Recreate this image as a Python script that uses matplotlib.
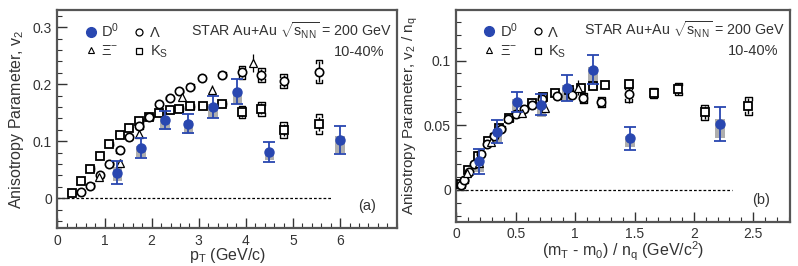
import numpy as np
import matplotlib
matplotlib.use('Agg')
import matplotlib.pyplot as plt
from matplotlib.lines import Line2D
from matplotlib.patches import Rectangle
from matplotlib.ticker import MultipleLocator

plt.rcParams['font.family'] = ['Liberation Sans', 'DejaVu Sans']
plt.rcParams['mathtext.fontset'] = 'custom'
plt.rcParams['mathtext.rm'] = 'Liberation Sans'
plt.rcParams['mathtext.it'] = 'Liberation Sans'

BLUE = '#2947b0'
INK = '#333333'

# ---- panel (a): v2 vs pT ----
d0_pt = [1.27, 1.77, 2.28, 2.78, 3.3, 3.82, 4.5, 6.0]
d0_v2 = [0.045, 0.088, 0.137, 0.131, 0.160, 0.187, 0.081, 0.102]
d0_stat = [0.02, 0.018, 0.016, 0.016, 0.02, 0.022, 0.018, 0.025]
d0_sys_lo = [0.015, 0.015, 0.017, 0.018, 0.02, 0.022, 0.013, 0.022]
d0_sys_hi = [0.01, 0.004, 0.003, 0.004, 0.005, 0.003, 0.004, 0.008]

ks_pt = [0.3, 0.5, 0.7, 0.9, 1.1, 1.32, 1.52, 1.74, 1.95, 2.16, 2.38, 2.59,
         2.82, 3.08, 3.5, 3.92, 4.33, 4.8, 5.55]
ks_v2 = [0.009, 0.030, 0.052, 0.075, 0.095, 0.111, 0.124, 0.135, 0.143, 0.150,
         0.154, 0.157, 0.161, 0.162, 0.166, 0.151, 0.157, 0.120, 0.130]
ks_stat = [0.001]*15 + [0.008, 0.010, 0.010, 0.012]
ks_sys = [0.004]*15 + [0.011, 0.012, 0.014, 0.017]

la_pt = [0.5, 0.7, 0.9, 1.1, 1.32, 1.52, 1.74, 1.95, 2.16, 2.38, 2.59, 2.82,
         3.07, 3.5, 3.92, 4.33, 4.8, 5.55]
la_v2 = [0.011, 0.022, 0.041, 0.061, 0.084, 0.107, 0.126, 0.142, 0.165, 0.176,
         0.188, 0.196, 0.211, 0.217, 0.221, 0.216, 0.206, 0.222]
la_stat = [0.001]*14 + [0.008, 0.010, 0.010, 0.018]
la_sys = [0.004]*14 + [0.011, 0.012, 0.012, 0.020]

xi_pt = [0.88, 1.33, 1.73, 2.64, 3.28, 4.15]
xi_v2 = [0.038, 0.062, 0.112, 0.178, 0.190, 0.237]
xi_stat = [0.004, 0.005, 0.007, 0.008, 0.009, 0.016]

# ---- panel (b): v2/nq vs (mT-m0)/nq ----
d0_ke = [0.19, 0.345, 0.51, 0.715, 0.93, 1.15, 1.46, 2.22]
d0_vq = [0.022, 0.045, 0.068, 0.066, 0.079, 0.093, 0.040, 0.051]
d0q_stat = [0.010, 0.009, 0.008, 0.008, 0.010, 0.011, 0.009, 0.013]
d0q_sys_lo = [0.008, 0.008, 0.009, 0.010, 0.010, 0.011, 0.007, 0.011]
d0q_sys_hi = [0.005, 0.002, 0.002, 0.002, 0.002, 0.002, 0.002, 0.004]

ks_ke = [0.04, 0.10, 0.18, 0.265, 0.355, 0.445, 0.54, 0.635, 0.73, 0.83, 0.95,
         1.05, 1.15, 1.25, 1.45, 1.66, 1.87, 2.09, 2.46]
ks_vq = [0.0045, 0.015, 0.026, 0.0375, 0.0475, 0.0555, 0.062, 0.0675, 0.0715,
         0.075, 0.077, 0.0785, 0.080, 0.081, 0.082, 0.075, 0.078, 0.060, 0.065]
ksq_stat = [0.0005]*14 + [0.003, 0.004, 0.005, 0.005, 0.006]
ksq_sys = [0.002]*14 + [0.003, 0.004, 0.005, 0.006, 0.007]

la_ke = [0.035, 0.067, 0.106, 0.15, 0.204, 0.257, 0.314, 0.377, 0.438, 0.504,
         0.568, 0.633, 0.717, 0.85, 0.97, 1.07, 1.22, 1.45]
la_vq = [0.0037, 0.0073, 0.0137, 0.0203, 0.028, 0.0357, 0.042, 0.0473, 0.055,
         0.0587, 0.0627, 0.0653, 0.0703, 0.0723, 0.0737, 0.071, 0.068, 0.074]
laq_stat = [0.0005]*15 + [0.004, 0.004, 0.007]
laq_sys = [0.002]*15 + [0.004, 0.004, 0.006]

xi_ke = [0.092, 0.187, 0.29, 0.55, 0.745, 1.02]
xi_vq = [0.0127, 0.0207, 0.0373, 0.0593, 0.0633, 0.079]
xiq_stat = [0.0013, 0.0017, 0.0023, 0.0027, 0.003, 0.006]


def brackets(ax, x, y, sys, w, h):
    for xi, yi, s in zip(x, y, sys):
        for sgn in (1, -1):
            yy = yi + sgn*s
            ax.plot([xi-w, xi-w, xi+w, xi+w], [yy - sgn*h, yy, yy, yy - sgn*h],
                    color='k', lw=1.0, zorder=3)


def draw_panel(ax, d0x, d0y, d0s, d0lo, d0hi, ksx, ksy, kss, ksb,
               lax, lay, las, lab, xix, xiy, xis, bw, bh, boxw, capw):
    # D0 systematic boxes
    for xi, yi, lo, hi in zip(d0x, d0y, d0lo, d0hi):
        ax.add_patch(Rectangle((xi - boxw/2, yi - lo), boxw, lo + hi,
                               facecolor='#9a9a9a', edgecolor='none', alpha=0.8, zorder=2))
    brackets(ax, ksx, ksy, ksb, bw, bh)
    brackets(ax, lax, lay, lab, bw, bh)
    ax.errorbar(ksx, ksy, yerr=kss, fmt='s', ms=5.5, mfc='white', mec='k', mew=1.3,
                ecolor='k', elinewidth=1.0, capsize=0, zorder=4)
    ax.errorbar(lax, lay, yerr=las, fmt='o', ms=6, mfc='white', mec='k', mew=1.2,
                ecolor='k', elinewidth=1.0, capsize=0, zorder=4)
    ax.errorbar(xix, xiy, yerr=xis, fmt='^', ms=6, mfc='white', mec='k', mew=0.9,
                ecolor='k', elinewidth=0.9, capsize=0, zorder=4)
    ax.errorbar(d0x, d0y, yerr=d0s, fmt='o', ms=6.5, color=BLUE, mec=BLUE,
                ecolor=BLUE, elinewidth=1.3, capsize=capw, capthick=1.3, zorder=5)


fig = plt.figure(figsize=(7.98, 2.66), dpi=100)
axa = fig.add_axes([0.072, 0.143, 0.425, 0.819])
axb = fig.add_axes([0.572, 0.167, 0.418, 0.795])

draw_panel(axa, d0_pt, d0_v2, d0_stat, d0_sys_lo, d0_sys_hi,
           ks_pt, ks_v2, ks_stat, ks_sys, la_pt, la_v2, la_stat, la_sys,
           xi_pt, xi_v2, xi_stat, 0.07, 0.005, 0.2, 4)
draw_panel(axb, d0_ke, d0_vq, d0q_stat, d0q_sys_lo, d0q_sys_hi,
           ks_ke, ks_vq, ksq_stat, ksq_sys, la_ke, la_vq, laq_stat, laq_sys,
           xi_ke, xi_vq, xiq_stat, 0.028, 0.0022, 0.08, 4)

axa.plot([0, 5.8], [0, 0], color='k', lw=0.9, ls=(0, (2.2, 1.6)), zorder=1)
axb.plot([0, 2.32], [0, 0], color='k', lw=0.9, ls=(0, (2.2, 1.6)), zorder=1)

axa.set_xlim(0, 7.2)
axa.set_ylim(-0.052, 0.33)
axb.set_xlim(0, 2.81)
axb.set_ylim(-0.0245, 0.139)

axa.set_xticks([0, 1, 2, 3, 4, 5, 6])
axa.xaxis.set_minor_locator(MultipleLocator(0.2))
axa.yaxis.set_minor_locator(MultipleLocator(0.02))
axb.xaxis.set_minor_locator(MultipleLocator(0.1))
axb.yaxis.set_minor_locator(MultipleLocator(0.01))
axa.set_yticks([0, 0.1, 0.2, 0.3])
axa.set_yticklabels(['0', '0.1', '0.2', '0.3'])
axb.set_yticks([0, 0.05, 0.1])
axb.set_yticklabels(['0', '0.05', '0.1'])
axb.set_xticks([0, 0.5, 1, 1.5, 2, 2.5])
axb.set_xticklabels(['0', '0.5', '1', '1.5', '2', '2.5'])

for ax in (axa, axb):
    ax.tick_params(which='both', direction='in', labelsize=10, colors=INK,
                   top=False, right=False, pad=4)
    ax.tick_params(which='major', length=7, width=1.0)
    ax.tick_params(which='minor', length=3.5, width=0.8)
    for sp in ax.spines.values():
        sp.set_color('#555555')
        sp.set_linewidth(1.6)

axa.set_xlabel(r'p$_{\rm T}$ (GeV/c)', fontsize=11.5, color=INK, labelpad=-1)
axa.set_ylabel(r'Anisotropy Parameter, v$_2$', fontsize=11.5, color=INK, labelpad=5)
axb.set_xlabel(r'(m$_{\rm T}$ - m$_0$) / n$_{\rm q}$ (GeV/c$^2$)', fontsize=11.5,
               color=INK, labelpad=-1)
axb.set_ylabel(r'Anisotropy Parameter, v$_2$ / n$_{\rm q}$', fontsize=11,
               color=INK, labelpad=3)

handles = [
    Line2D([], [], ls='none', marker='o', ms=7, color=BLUE),
    Line2D([], [], ls='none', marker='^', ms=5, mfc='white', mec='k', mew=0.8),
    Line2D([], [], ls='none', marker='o', ms=5, mfc='white', mec='k', mew=0.9),
    Line2D([], [], ls='none', marker='s', ms=5, mfc='white', mec='k', mew=0.9),
]
labels = [r'D$^0$', 'Ξ$^{-}$', 'Λ', r'K$_{\rm S}$']

for ax, tag in ((axa, '(a)'), (axb, '(b)')):
    leg = ax.legend(handles, labels, ncol=2, loc='upper left',
                    bbox_to_anchor=(0.055, 0.99), frameon=False, fontsize=10.5,
                    handlelength=0.8, handletextpad=0.3, columnspacing=1.0,
                    labelspacing=0.3, borderaxespad=0.2)
    for t in leg.get_texts():
        t.set_color(INK)
    ax.text(0.985, 0.955, r'STAR Au+Au $\sqrt{s_{\rm NN}}$ = 200 GeV',
            transform=ax.transAxes, ha='right', va='top', fontsize=10.3, color=INK)
    ax.text(0.965, 0.84, '10-40%', transform=ax.transAxes, ha='right', va='top',
            fontsize=10.5, color=INK)
    ax.text(0.94, 0.1, tag, transform=ax.transAxes, ha='right', va='center',
            fontsize=10.5, color=INK)

fig.savefig('out.png', dpi=100)
